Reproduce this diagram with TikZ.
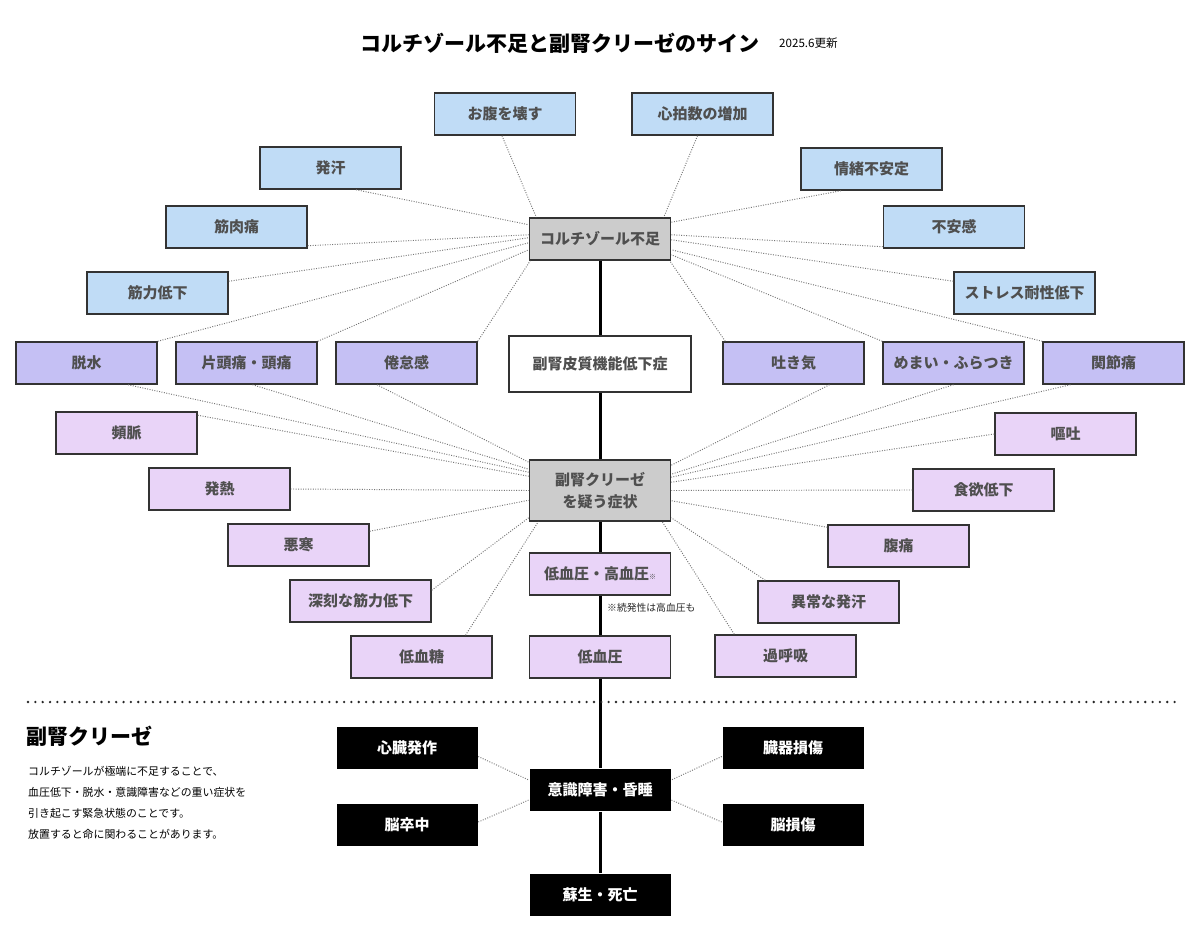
\documentclass[tikz,border=0pt]{standalone}
\usepackage{fontspec}
\setmainfont{Noto Sans CJK JP}
\usetikzlibrary{calc}
\definecolor{blu}{HTML}{C0DCF6}
\definecolor{pur}{HTML}{C5C0F4}
\definecolor{lpur}{HTML}{E9D4F8}
\definecolor{hubgray}{HTML}{CCCCCC}
\definecolor{edgec}{HTML}{333333}
\definecolor{txt}{HTML}{4F4F4F}
\definecolor{dotc}{HTML}{767676}
\begin{document}
\begin{tikzpicture}[x=1pt,y=-1pt,
  box/.style={draw=edgec, line width=1.5pt, minimum width=141pt, minimum height=42pt, inner sep=0pt, text=txt, font=\bfseries\fontsize{15}{18}\selectfont},
  bluebox/.style={box, fill=blu},
  purbox/.style={box, fill=pur},
  lpurbox/.style={box, fill=lpur},
  hubbox/.style={box, fill=hubgray},
  blackbox/.style={box, draw=none, fill=black, text=white},
  dotline/.style={draw=dotc, line width=0.95pt, dash pattern=on 0.95pt off 1.5pt},
  spine/.style={draw=black, line width=3pt},
  plain/.style={inner sep=0pt, text=black}
]
\fill[white] (0,0) rectangle (1200,949);
\useasboundingbox (0,0) rectangle (1200,949);

% titles
\node[plain, anchor=base, font=\bfseries\fontsize{21}{24}\selectfont] (title) at (559.5,52) {コルチゾール不足と副腎クリーゼのサイン};
\node[plain, anchor=base west, font=\fontsize{11.6}{13}\selectfont] (date) at (779,48) {2025.6更新};

% hubs and spine boxes
\node[hubbox] (hub1) at (600,239) {コルチゾール不足};
\node[box, fill=white, minimum width=182pt, minimum height=56pt] (hinko) at (600,364) {副腎皮質機能低下症};
\node[hubbox, minimum height=61pt, align=center, font=\bfseries\fontsize{15}{22}\selectfont] (hub2) at (600,490.5) {副腎クリーゼ\\を疑う症状};
\node[lpurbox] (ketsuatsu) at (600,574) {低血圧・高血圧{\fontsize{7}{7}\selectfont ※}};
\node[lpurbox] (teiketsuatsu) at (600,657) {低血圧};
\node[plain, anchor=base west, text=black!85, font=\fontsize{9.8}{11}\selectfont] (note) at (607,611.5) {※続発性は高血圧も};

% blue boxes
\node[bluebox] (onaka) at (505,114) {お腹を壊す};
\node[bluebox] (shinpaku) at (702.5,114) {心拍数の増加};
\node[bluebox] (hatsuan) at (330.5,168) {発汗};
\node[bluebox] (jocho) at (871.5,169) {情緒不安定};
\node[bluebox] (kinniku) at (236.5,227) {筋肉痛};
\node[bluebox] (fuan) at (954,227) {不安感};
\node[bluebox] (kinryoku) at (157.5,293) {筋力低下};
\node[bluebox] (stress) at (1024.5,293) {ストレス耐性低下};

% purple boxes
\node[purbox] (dassui) at (86.5,363) {脱水};
\node[purbox] (zutsu) at (246.5,363) {片頭痛・頭痛};
\node[purbox] (kentai) at (406.5,363) {倦怠感};
\node[purbox] (hakike) at (793.5,363) {吐き気};
\node[purbox] (memai) at (953.5,363) {めまい・ふらつき};
\node[purbox] (kansetsu) at (1113.5,363) {関節痛};

% light purple boxes
\node[lpurbox] (hinmyaku) at (126.5,433) {頻脈};
\node[lpurbox] (outo) at (1065.5,434) {嘔吐};
\node[lpurbox] (hatsunetsu) at (219.5,489) {発熱};
\node[lpurbox] (shokuyoku) at (983.5,490) {食欲低下};
\node[lpurbox] (okan) at (298.5,545) {悪寒};
\node[lpurbox] (fukutsu) at (898.5,546) {腹痛};
\node[lpurbox] (shinkoku) at (360.5,601) {深刻な筋力低下};
\node[lpurbox] (ijou) at (828.5,602) {異常な発汗};
\node[lpurbox] (teikettou) at (421.5,657) {低血糖};
\node[lpurbox] (kakokyu) at (785.5,656) {過呼吸};

% black boxes
\node[blackbox] (shinzou) at (407,747.5) {心臓発作};
\node[blackbox] (zouki) at (793,747.5) {臓器損傷};
\node[blackbox] (ishiki) at (600,790) {意識障害・昏睡};
\node[blackbox] (noukotsu) at (407,825) {脳卒中};
\node[blackbox] (nouson) at (793,825) {脳損傷};
\node[blackbox] (sosei) at (600,895) {蘇生・死亡};

% spine
\draw[spine] (hub1) -- (hinko);
\draw[spine] (hinko) -- (hub2);
\draw[spine] (hub2) -- (ketsuatsu);
\draw[spine] (ketsuatsu) -- (teiketsuatsu);
\draw[spine] (teiketsuatsu) -- (ishiki);
\draw[spine] (ishiki) -- (sosei);

% connectors to hub1
\draw[dotline] ($(onaka.south)+(-3,0)$) -- ($(hub1.north west)+(7.5,0)$);
\draw[dotline] ($(shinpaku.south)+(-5,0)$) -- ($(hub1.north east)+(-7.5,0)$);
\draw[dotline] ($(hatsuan.south)+(25.5,0)$) -- ($(hub1.north west)+(0,7.5)$);
\draw[dotline] ($(kinniku.south east)+(0,-3)$) -- ($(hub1.north west)+(0,17.5)$);
\draw[dotline] ($(kinryoku.north east)+(0,10)$) -- ($(hub1.north west)+(0,20.5)$);
\draw[dotline] (dassui.north east) -- ($(hub1.north west)+(0,25.5)$);
\draw[dotline] (zutsu.north east) -- ($(hub1.north west)+(0,32.5)$);
\draw[dotline] (kentai.north east) -- ($(hub1.south west)+(1.5,0)$);
\draw[dotline] ($(jocho.south)+(-30.5,0)$) -- ($(hub1.north east)+(0,5)$);
\draw[dotline] ($(fuan.south west)+(0,-2)$) -- ($(hub1.north east)+(0,17.5)$);
\draw[dotline] ($(stress.north west)+(0,10)$) -- ($(hub1.north east)+(0,22.5)$);
\draw[dotline] (kansetsu.north west) -- ($(hub1.north east)+(0,32.5)$);
\draw[dotline] (memai.north west) -- ($(hub1.north east)+(0,37.5)$);
\draw[dotline] ($(hakike.north west)+(3,0)$) -- ($(hub1.south east)+(-1.5,0)$);

% connectors to hub2
\draw[dotline] ($(kentai.south)+(-29.5,0)$) -- ($(hub2.north west)+(0,3)$);
\draw[dotline] ($(zutsu.south)+(6,0)$) -- ($(hub2.north west)+(0,10)$);
\draw[dotline] ($(dassui.south)+(41.5,0)$) -- ($(hub2.north west)+(0,13)$);
\draw[dotline] ($(hinmyaku.north east)+(0,4)$) -- ($(hub2.north west)+(0,17)$);
\draw[dotline] (hatsunetsu.east) -- (hub2.west);
\draw[dotline] ($(okan.north east)+(0,8)$) -- ($(hub2.north west)+(0,41)$);
\draw[dotline] ($(shinkoku.north east)+(0,11)$) -- ($(hub2.south west)+(0,-4)$);
\draw[dotline] ($(teikettou.north)+(44,0)$) -- ($(hub2.south west)+(9.5,0)$);
\draw[dotline] ($(hakike.south)+(36,0)$) -- ($(hub2.north east)+(0,6)$);
\draw[dotline] (memai.south) -- ($(hub2.north east)+(0,15)$);
\draw[dotline] ($(kansetsu.south)+(-43,0)$) -- ($(hub2.north east)+(0,18)$);
\draw[dotline] (outo.west) -- ($(hub2.north east)+(0,23)$);
\draw[dotline] (shokuyoku.west) -- (hub2.east);
\draw[dotline] ($(fukutsu.north west)+(0,3)$) -- ($(hub2.north east)+(0,41.5)$);
\draw[dotline] ($(ijou.north west)+(8,0)$) -- ($(hub2.south east)+(0,-4)$);
\draw[dotline] ($(kakokyu.north west)+(20,0)$) -- ($(hub2.south east)+(-9,0)$);

% bottom connectors
\draw[dotline] ($(shinzou.east)+(0,9)$) -- ($(ishiki.west)+(0,-10)$);
\draw[dotline] ($(noukotsu.east)+(0,-3)$) -- ($(ishiki.west)+(0,10)$);
\draw[dotline] ($(zouki.west)+(0,9)$) -- ($(ishiki.east)+(0,-10)$);
\draw[dotline] ($(nouson.west)+(0,-3)$) -- ($(ishiki.east)+(0,10)$);

% separator
\coordinate (sepL) at (28,702);
\coordinate (sepR) at (1180,702);
\draw[line width=2.6pt, line cap=round, dash pattern=on 0pt off 7.35pt, draw=black!85] (sepL) -- (sepR);

% explanation
\node[plain, anchor=base west, font=\bfseries\fontsize{21}{24}\selectfont] (sect) at (26,744) {副腎クリーゼ};
\node[plain, anchor=base west, font=\fontsize{10.9}{12}\selectfont] (p1) at (28,775) {コルチゾールが極端に不足することで、};
\node[plain, anchor=base west, font=\fontsize{10.9}{12}\selectfont] (p2) at (28,796) {血圧低下・脱水・意識障害などの重い症状を};
\node[plain, anchor=base west, font=\fontsize{10.9}{12}\selectfont] (p3) at (28,817) {引き起こす緊急状態のことです。};
\node[plain, anchor=base west, font=\fontsize{10.9}{12}\selectfont] (p4) at (28,838) {放置すると命に関わることがあります。};
\end{tikzpicture}
\end{document}
